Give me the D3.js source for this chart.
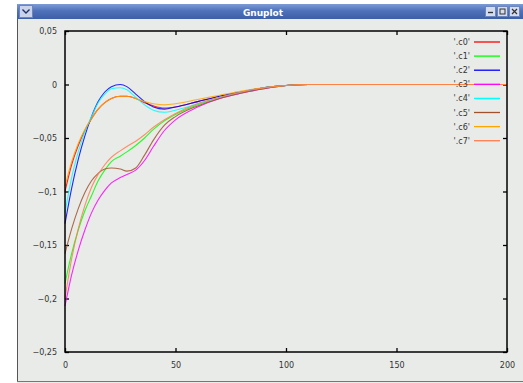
<!DOCTYPE html>
<html>
<head>
<meta charset="utf-8">
<script src="https://cdn.jsdelivr.net/npm/d3@7"></script>
<style>
  body { margin: 0; background: #fff; }
  svg { display: block; }
</style>
</head>
<body>
<svg id="chart" width="523" height="383"></svg>
<script>
// sample positions (x) shared by every series
var xs = [0, 3, 6, 9, 12, 15, 18, 21, 25, 28, 32, 36, 40, 45, 50, 60, 70, 80, 90, 100, 110, 150, 200];

var c0 = [-0.100, -0.075, -0.057, -0.043, -0.032, -0.023, -0.017, -0.013, -0.011, -0.011, -0.013, -0.017, -0.020, -0.022, -0.021, -0.016, -0.011, -0.007, -0.003, -0.001, 0, 0, 0];
var c1 = [-0.186, -0.158, -0.136, -0.118, -0.104, -0.090, -0.080, -0.072, -0.067, -0.063, -0.057, -0.050, -0.042, -0.034, -0.028, -0.019, -0.012, -0.007, -0.003, -0.001, 0, 0, 0];
var c2 = [-0.130, -0.097, -0.070, -0.048, -0.030, -0.016, -0.007, -0.002, 0.000, -0.002, -0.009, -0.016, -0.021, -0.023, -0.021, -0.016, -0.011, -0.007, -0.003, -0.001, 0, 0, 0];
var c3 = [-0.207, -0.178, -0.155, -0.136, -0.120, -0.108, -0.099, -0.092, -0.087, -0.084, -0.080, -0.071, -0.058, -0.043, -0.033, -0.021, -0.013, -0.008, -0.004, -0.001, 0, 0, 0];
var c4 = [-0.120, -0.087, -0.063, -0.044, -0.030, -0.017, -0.009, -0.004, -0.003, -0.005, -0.012, -0.019, -0.024, -0.026, -0.024, -0.018, -0.012, -0.007, -0.003, -0.001, 0, 0, 0];
var c5 = [-0.158, -0.135, -0.116, -0.101, -0.090, -0.083, -0.079, -0.078, -0.079, -0.081, -0.078, -0.066, -0.052, -0.038, -0.030, -0.020, -0.013, -0.008, -0.004, -0.001, 0, 0, 0];
var c6 = [-0.095, -0.072, -0.055, -0.042, -0.032, -0.023, -0.017, -0.013, -0.011, -0.011, -0.013, -0.016, -0.018, -0.019, -0.018, -0.014, -0.010, -0.006, -0.003, -0.001, 0, 0, 0];
var c7 = [-0.200, -0.163, -0.135, -0.113, -0.096, -0.084, -0.075, -0.068, -0.062, -0.058, -0.053, -0.047, -0.040, -0.033, -0.027, -0.018, -0.012, -0.007, -0.003, -0.001, 0, 0, 0];

var names = ["'.c0'", "'.c1'", "'.c2'", "'.c3'", "'.c4'", "'.c5'", "'.c6'", "'.c7'"];
var series = [c0, c1, c2, c3, c4, c5, c6, c7];
// gnuplot x11 default line colours
var colors = ["#ff0000", "#00ff00", "#0000ff", "#ff00ff", "#00ffff", "#a0522d", "#ffa500", "#ff7f50"];

var xTicks = [0, 50, 100, 150, 200];
var yTicks = [0.05, 0, -0.05, -0.1, -0.15, -0.2, -0.25];

var svg = d3.select("#chart");
var W = 523, H = 383;

// window frame
var win = svg.append("g");
win.append("rect").attr("x", 17).attr("y", 4).attr("width", W - 17).attr("height", H - 4)
    .attr("fill", "#e9ebe9");
win.append("line").attr("x1", 17.5).attr("x2", 17.5).attr("y1", 4).attr("y2", 381)
    .attr("stroke", "#555").attr("stroke-width", 1);
win.append("line").attr("x1", 17).attr("x2", W).attr("y1", 381.5).attr("y2", 381.5)
    .attr("stroke", "#777").attr("stroke-width", 1);

// title bar gradient
var defs = svg.append("defs");
var grad = defs.append("linearGradient").attr("id", "tb").attr("x1", 0).attr("x2", 0).attr("y1", 0).attr("y2", 1);
grad.append("stop").attr("offset", "0%").attr("stop-color", "#7d9bd6");
grad.append("stop").attr("offset", "45%").attr("stop-color", "#4f72bb");
grad.append("stop").attr("offset", "100%").attr("stop-color", "#3d5fa8");
win.append("rect").attr("x", 17).attr("y", 4).attr("width", W - 17).attr("height", 15)
    .attr("fill", "url(#tb)");
win.append("text").attr("x", 263).attr("y", 15.5).attr("text-anchor", "middle")
    .attr("font-family", "DejaVu Sans, sans-serif").attr("font-size", 9).attr("font-weight", "bold")
    .attr("fill", "#fff").text("Gnuplot");

// menu button on the left
win.append("rect").attr("x", 19.5).attr("y", 5.5).attr("width", 13).attr("height", 12)
    .attr("fill", "#c9d4ea").attr("stroke", "#6c86bd");
win.append("path").attr("d", "M22.5,9.5 L26,13 L29.5,9.5").attr("fill", "none")
    .attr("stroke", "#223366").attr("stroke-width", 1.4);

// minimise / maximise / close
[485, 497, 509].forEach(function (bx, i) {
    win.append("rect").attr("x", bx + 0.5).attr("y", 6.5).attr("width", 10).attr("height", 10)
        .attr("fill", "#d4dcee").attr("stroke", "#6c86bd");
    if (i === 0) {
        win.append("line").attr("x1", bx + 3).attr("x2", bx + 8).attr("y1", 12.5).attr("y2", 12.5)
            .attr("stroke", "#333").attr("stroke-width", 1.4);
    } else if (i === 1) {
        win.append("rect").attr("x", bx + 3).attr("y", 9).attr("width", 5).attr("height", 5)
            .attr("fill", "none").attr("stroke", "#333");
    } else {
        win.append("path").attr("d", "M" + (bx + 3) + ",9 L" + (bx + 8) + ",14 M" + (bx + 8) + ",9 L" + (bx + 3) + ",14")
            .attr("stroke", "#333").attr("stroke-width", 1.2);
    }
});

// plot box (note: "top" is reserved on window, so use plot_* names)
var plot_left = 65, plot_right = 507, plot_top = 31, plot_bottom = 352;

var x = d3.scaleLinear().domain([0, 200]).range([plot_left, plot_right]);
var y = d3.scaleLinear().domain([-0.25, 0.05]).range([plot_bottom, plot_top]);

var fmt = function (d) {
    if (d === 0) return "0";
    return d3.format("~g")(d).replace(".", ",");
};

// axes, ticks pointing inward and mirrored
var axisFont = "DejaVu Sans, sans-serif";
var gx = svg.append("g").attr("transform", "translate(0," + plot_bottom + ")")
    .call(d3.axisBottom(x).tickValues(xTicks).tickSizeInner(-4).tickSizeOuter(0).tickPadding(10).tickFormat(fmt));
var gy = svg.append("g").attr("transform", "translate(" + plot_left + ",0)")
    .call(d3.axisLeft(y).tickValues(yTicks).tickSizeInner(-4).tickSizeOuter(0).tickPadding(8).tickFormat(fmt));
var gt = svg.append("g").attr("transform", "translate(0," + plot_top + ")")
    .call(d3.axisTop(x).tickValues(xTicks).tickSizeInner(-4).tickSizeOuter(0).tickFormat(""));
var gr = svg.append("g").attr("transform", "translate(" + plot_right + ",0)")
    .call(d3.axisRight(y).tickValues(yTicks).tickSizeInner(-4).tickSizeOuter(0).tickFormat(""));

[gx, gy, gt, gr].forEach(function (g) {
    g.select(".domain").remove();
    g.selectAll(".tick line").attr("stroke", "#000").attr("stroke-width", 1.3);
    g.selectAll(".tick text").attr("font-family", axisFont).attr("font-size", 8).attr("fill", "#333");
});

// curves
var line = d3.line()
    .x(function (d) { return x(d[0]); })
    .y(function (d) { return y(d[1]); })
    .curve(d3.curveMonotoneX);

series.forEach(function (s, i) {
    var pts = xs.map(function (v, j) { return [v, s[j]]; });
    svg.append("path").attr("d", line(pts)).attr("fill", "none")
        .attr("stroke", colors[i]).attr("stroke-width", 1.1).attr("stroke-opacity", 0.85);
});

// frame on top of curves
svg.append("rect").attr("x", plot_left).attr("y", plot_top)
    .attr("width", plot_right - plot_left).attr("height", plot_bottom - plot_top)
    .attr("fill", "none").attr("stroke", "#000").attr("stroke-width", 1.5);

// key
var key = svg.append("g");
names.forEach(function (n, i) {
    var ky = 42 + i * 14.1;
    key.append("text").attr("x", 470).attr("y", ky + 3).attr("text-anchor", "end")
        .attr("font-family", axisFont).attr("font-size", 8).attr("fill", "#333").text(n);
    key.append("line").attr("x1", 474).attr("x2", 500).attr("y1", ky).attr("y2", ky)
        .attr("stroke", colors[i]).attr("stroke-width", 1.3);
});
</script>
</body>
</html>
